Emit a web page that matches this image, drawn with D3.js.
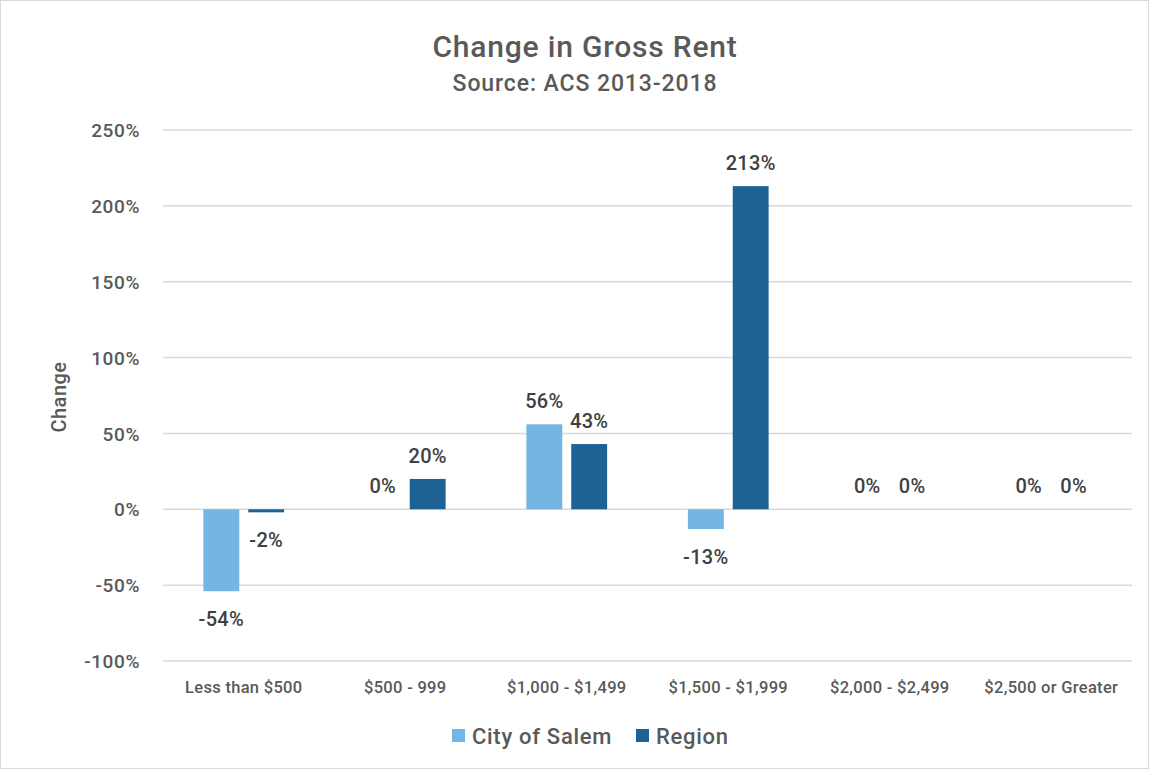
<!DOCTYPE html>
<html><head><meta charset="utf-8">
<script src="https://cdn.jsdelivr.net/npm/d3@7"></script>
<style>body{margin:0;background:#fff}svg{display:block}text{font-family:Roboto,"DejaVu Sans",sans-serif}</style>
</head><body>
<svg id="c" width="1151" height="771"></svg>
<script>
const categories = ["Less than $500","$500 - 999","$1,000 - $1,499","$1,500 - $1,999","$2,000 - $2,499","$2,500 or Greater"];
const seriesNames = ["City of Salem","Region"];
const salem = [-54, 0, 56, -13, 0, 0];
const region = [-2, 20, 43, 213, 0, 0];
const yTicks = [-100,-50,0,50,100,150,200,250];
const colors = ["#74b5e3","#1d6295"];

const svg = d3.select("#c");
svg.append("rect").attr("x",0.5).attr("y",0.5).attr("width",1148).attr("height",768).attr("fill","#fff").attr("stroke","#d9d9d9");

const L=163,R=1132,T=130,B=661;
const y = d3.scaleLinear().domain([-100,250]).range([B,T]);
const x0 = d3.scaleBand().domain(categories).range([L,R]);
const bw = x0.bandwidth();
const x1 = d3.scaleBand().domain(seriesNames).range([bw*0.25,bw*0.75]).paddingInner(0.2);

// gridlines
svg.append("g").selectAll("line").data(yTicks).join("line")
  .attr("x1",L).attr("x2",R).attr("y1",d=>y(d)).attr("y2",d=>y(d))
  .attr("stroke","#d9d9d9").attr("stroke-width",1.5);

// y axis labels
const yAxis = d3.axisLeft(y).tickValues(yTicks).tickFormat(d=>d+"%").tickSize(0).tickPadding(0);
const ga = svg.append("g").attr("transform",`translate(140,0)`).call(yAxis);
ga.select(".domain").remove();
ga.selectAll("text").attr("fill","#595959").attr("font-size",19).attr("font-weight",500).attr("letter-spacing",0.6).attr("dy","0.35em");

// x axis labels
const xAxis = d3.axisBottom(x0).tickSize(0).tickPadding(0);
const gx = svg.append("g").attr("transform",`translate(0,${B+26})`).call(xAxis);
gx.select(".domain").remove();
gx.selectAll("text").attr("fill","#595959").attr("font-size",16.5).attr("font-weight",500).attr("letter-spacing",0.3).attr("dy","0.35em");

const data = [salem, region];
seriesNames.forEach((s,si)=>{
  const g = svg.append("g");
  const rows = categories.map((c,i)=>({c, v:data[si][i]}));
  g.selectAll("rect").data(rows.filter(d=>d.v!==0)).join("rect")
    .attr("x",d=>x0(d.c)+x1(s)).attr("width",x1.bandwidth())
    .attr("y",d=>y(Math.max(0,d.v))).attr("height",d=>Math.abs(y(d.v)-y(0)))
    .attr("fill",colors[si]);
  g.selectAll("text").data(rows).join("text")
    .attr("x",d=>x0(d.c)+x1(s)+x1.bandwidth()/2)
    .attr("y",d=> d.v<0 ? y(d.v)+35 : y(d.v)-16)
    .attr("text-anchor","middle").attr("fill","#404040").attr("font-size",20).attr("font-weight",500).attr("letter-spacing",0.3)
    .text(d=>d.v+"%");
});

// titles
svg.append("text").attr("x",585).attr("y",57).attr("text-anchor","middle").attr("fill","#595959").attr("font-size",30).attr("font-weight",500).attr("letter-spacing",0.8).text("Change in Gross Rent");
svg.append("text").attr("x",585).attr("y",91).attr("text-anchor","middle").attr("fill","#595959").attr("font-size",23).attr("font-weight",500).attr("letter-spacing",0.9).text("Source: ACS 2013-2018");
svg.append("text").attr("transform","translate(66,397) rotate(-90)").attr("text-anchor","middle").attr("fill","#595959").attr("font-size",20).attr("font-weight",500).attr("letter-spacing",0.5).text("Change");

// legend
const lg = svg.append("g");
const lx=[452,636];
seriesNames.forEach((s,i)=>{
  lg.append("rect").attr("x",lx[i]).attr("y",729).attr("width",13).attr("height",13).attr("fill",colors[i]);
  lg.append("text").attr("x",lx[i]+20).attr("y",744).attr("fill","#595959").attr("font-size",22).attr("font-weight",500).attr("letter-spacing",0.7).text(s);
});
</script>
</body></html>
